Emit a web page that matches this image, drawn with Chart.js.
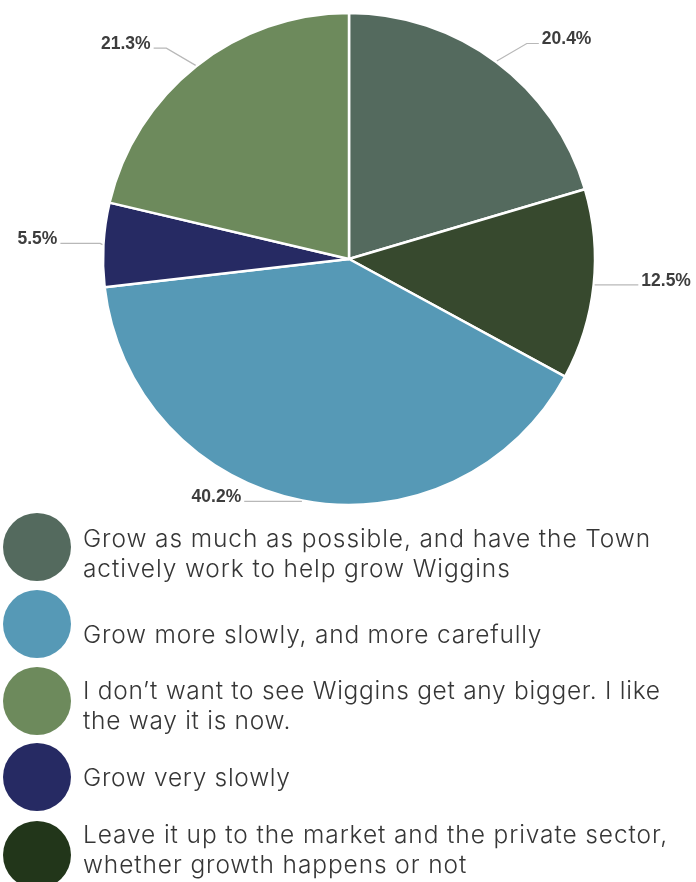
<!DOCTYPE html>
<html>
<head>
<meta charset="utf-8">
<script src="https://cdn.jsdelivr.net/npm/chart.js@4/dist/chart.umd.min.js"></script>
<style>
  html, body { margin: 0; padding: 0; background: #fff; }
  body { width: 696px; height: 882px; position: relative; overflow: hidden; }
  #wrap { position: absolute; left: 0; top: 0; width: 696px; height: 530px; }
  #legend { position: absolute; left: 0; top: 0; width: 696px; height: 882px; pointer-events: none; font-family: Inter, "DejaVu Sans", sans-serif; }
  .dot { position: absolute; left: 3px; width: 68px; height: 68px; border-radius: 50%; }
  .txt { position: absolute; left: 83px; font-size: 24.5px; line-height: 30px; color: #363636; font-weight: 300; white-space: nowrap; letter-spacing: 0.9px; }
  #lt1 { letter-spacing: 0.8px; }
  #lt2 { letter-spacing: 0.72px; }
  #lt3 { letter-spacing: 0.7px; }
</style>
</head>
<body>
<div id="wrap"><canvas id="c"></canvas></div>
<div id="legend"></div>
<script>
// Pie slices, clockwise from 12 o'clock
const sliceLabels = [
  "Grow as much as possible, and have the Town actively work to help grow Wiggins",
  "Leave it up to the market and the private sector, whether growth happens or not",
  "Grow more slowly, and more carefully",
  "Grow very slowly",
  "I don\u2019t want to see Wiggins get any bigger. I like the way it is now."
];
const sliceValues = [20.4, 12.5, 40.2, 5.5, 21.3];
const sliceColors = ["#546a5e", "#37492e", "#5699b6", "#262a63", "#6d8a5c"];

// Legend order
const legendLabels = [
  "Grow as much as possible, and have the Town<br>actively work to help grow Wiggins",
  "Grow more slowly, and more carefully",
  "I don\u2019t want to see Wiggins get any bigger. I like<br>the way it is now.",
  "Grow very slowly",
  "Leave it up to the market and the private sector,<br>whether growth happens or not"
];
const legendColors = ["#546a5e", "#5699b6", "#6d8a5c", "#262a63", "#22361a"];
const legendDotTop = [513, 590, 667, 743, 821];
const legendTextTop = [523, 619, 675, 762, 819];

const lg = document.getElementById('legend');
legendLabels.forEach((t, i) => {
  const d = document.createElement('div'); d.className = 'dot';
  d.style.background = legendColors[i]; d.style.top = legendDotTop[i] + 'px';
  const s = document.createElement('div'); s.className = 'txt'; s.innerHTML = t;
  s.style.top = legendTextTop[i] + 'px';
  s.id = 'lt' + i;
  lg.appendChild(d); lg.appendChild(s);
});

const outerLabels = {
  id: 'outerLabels',
  afterDatasetsDraw(chart) {
    const ctx = chart.ctx;
    const meta = chart.getDatasetMeta(0);
    ctx.save();
    meta.data.forEach((arc, i) => {
      const p = arc.getProps(['x','y','startAngle','endAngle','outerRadius'], true);
      const mid = (p.startAngle + p.endAngle) / 2;
      const c = Math.cos(mid), s = Math.sin(mid);
      const r0 = p.outerRadius + 1;
      const dir = c >= 0 ? 1 : -1;
      const x0 = p.x + c * r0, y0 = p.y + s * r0;
      const L = s < 0 ? 44 * Math.abs(s) : 0;
      const x1 = x0 + dir * 0.85 * L, y1 = y0 - 0.5 * L;
      const x2 = x0 + dir * (42 + 16 * Math.max(s, 0));
      ctx.strokeStyle = '#b8b8b8';
      ctx.lineWidth = 1.2;
      ctx.beginPath();
      ctx.moveTo(x0, y0); ctx.lineTo(x1, y1); ctx.lineTo(x2, y1);
      ctx.stroke();
      ctx.fillStyle = '#3d3d3d';
      ctx.font = 'bold 17.5px "Liberation Sans", Arial, sans-serif';
      ctx.textBaseline = 'middle';
      ctx.textAlign = dir > 0 ? 'left' : 'right';
      ctx.fillText(sliceValues[i].toFixed(1) + '%', x2 + dir * 3, y1 - 4);
    });
    ctx.restore();
  }
};

new Chart(document.getElementById('c'), {
  type: 'pie',
  data: {
    labels: sliceLabels,
    datasets: [{
      data: sliceValues,
      backgroundColor: sliceColors,
      borderColor: '#ffffff',
      borderWidth: 2.5,
      hoverOffset: 0,
      radius: 246
    }]
  },
  options: {
    responsive: true,
    maintainAspectRatio: false,
    animation: false,
    layout: { padding: { top: 13, bottom: 25, left: 2, right: 0 } },
    plugins: { legend: { display: false }, tooltip: { enabled: false } }
  },
  plugins: [outerLabels]
});
</script>
</body>
</html>
